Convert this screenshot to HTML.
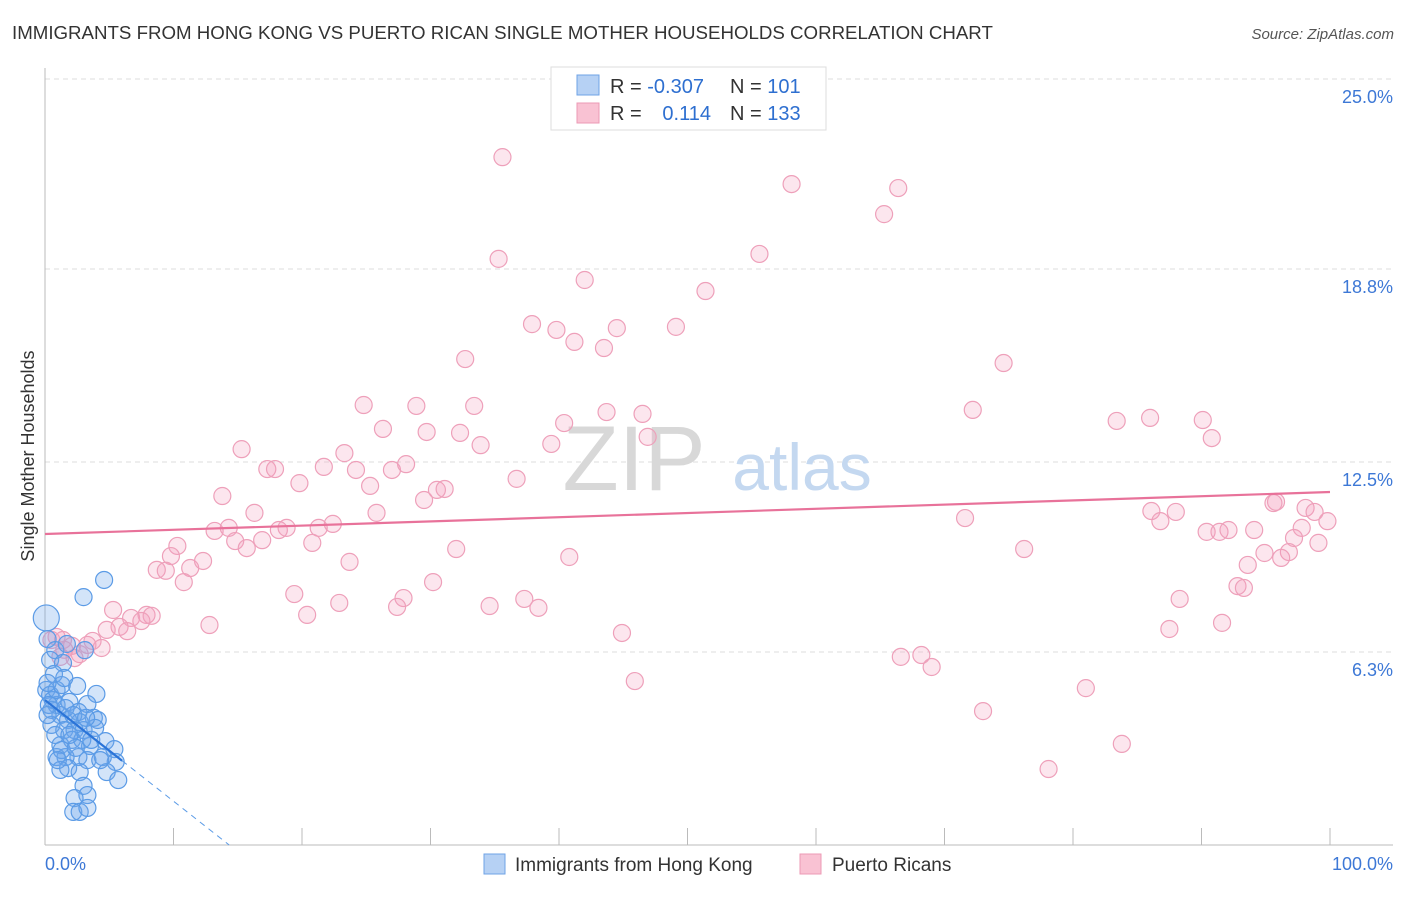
<!DOCTYPE html>
<html><head><meta charset="utf-8"><style>
body{margin:0;background:#fff;font-family:"Liberation Sans",sans-serif;}
svg text{font-family:"Liberation Sans",sans-serif;}
</style></head><body>
<svg id="c" width="1406" height="892" xmlns="http://www.w3.org/2000/svg">
<text x="12" y="39" font-size="18.7" fill="#333">IMMIGRANTS FROM HONG KONG VS PUERTO RICAN SINGLE MOTHER HOUSEHOLDS CORRELATION CHART</text>
<text x="1394" y="39" font-size="15" fill="#555" font-style="italic" text-anchor="end">Source: ZipAtlas.com</text>
<g id="grid"></g>
<text x="34" y="456" font-size="18" fill="#333" text-anchor="middle" transform="rotate(-90 34 456)">Single Mother Households</text>
<g><text x="634" y="490" font-size="92" fill="#d8d8d8" text-anchor="middle" font-family="Liberation Serif">ZIP</text><text x="802" y="490" font-size="66" fill="#c4d8f0" text-anchor="middle">atlas</text></g>
<g id="pts"></g>
<g id="lines"></g>
<g>
<rect x="551" y="67" width="275" height="63" fill="#fff" stroke="#ddd"/>
<rect x="577" y="75" width="22" height="20" fill="#b6d1f4" stroke="#6fa3e6"/>
<rect x="577" y="103" width="22" height="20" fill="#f9c2d3" stroke="#ec9ab5"/>
<text x="610" y="93" font-size="20" fill="#333">R = <tspan fill="#2e6fd0">-0.307</tspan></text>
<text x="730" y="93" font-size="20" fill="#333">N = <tspan fill="#2e6fd0">101</tspan></text>
<text x="610" y="120" font-size="20" fill="#333">R = </text><text x="711" y="120" font-size="20" fill="#2e6fd0" text-anchor="end">0.114</text>
<text x="730" y="120" font-size="20" fill="#333">N = <tspan fill="#2e6fd0">133</tspan></text>
</g>
<g>
<rect x="484" y="854" width="21" height="20" fill="#b6d1f4" stroke="#6fa3e6"/>
<text x="515" y="871" font-size="19" fill="#333">Immigrants from Hong Kong</text>
<rect x="800" y="854" width="21" height="20" fill="#f9c2d3" stroke="#ec9ab5"/>
<text x="832" y="871" font-size="19" fill="#333">Puerto Ricans</text>
</g>
</svg>
<script>
const yTicks=[6.3,12.5,18.8,25.0];
const yTickLabels=["6.3%","12.5%","18.8%","25.0%"];
const xTickLabels=["0.0%","100.0%"];
const pinkX=[35.6,58.1,66.4,65.3,55.6,35.3,42.0,51.4,37.9,39.8,44.5,49.1,41.2,43.5,32.7,74.6,24.8,28.9,33.4,43.7,46.5,72.2,83.4,86.0,90.1,26.3,29.7,32.3,40.4,46.9,90.8,15.3,23.3,33.9,39.4,17.3,17.9,21.7,24.2,27.0,28.1,19.8,25.3,30.5,31.1,36.7,13.8,29.5,16.3,25.8,71.6,86.1,88.0,86.8,95.6,95.8,98.1,98.8,99.8,13.2,14.3,18.2,18.8,21.3,22.4,14.8,16.9,20.8,15.7,10.3,32.0,76.2,90.4,91.4,92.1,94.1,97.8,97.2,99.1,9.8,23.7,40.8,93.6,94.9,96.8,96.2,8.7,9.4,11.3,12.3,10.8,30.2,19.4,27.9,37.3,88.3,92.8,93.3,22.9,27.4,34.6,38.4,20.4,5.3,6.7,7.9,8.3,7.5,12.8,4.8,5.8,6.4,44.9,87.5,91.6,3.7,4.4,3.3,2.1,1.4,0.9,1.5,2.7,2.3,66.6,68.2,69.0,45.9,81.0,73.0,83.8,78.1,0.5,1.2];
const pinkY=[22.45,21.57,21.44,20.59,19.29,19.13,18.44,18.08,17.0,16.81,16.87,16.91,16.42,16.22,15.86,15.73,14.36,14.33,14.33,14.13,14.07,14.2,13.84,13.94,13.87,13.58,13.48,13.45,13.77,13.32,13.28,12.92,12.79,13.05,13.09,12.27,12.27,12.34,12.24,12.24,12.43,11.81,11.72,11.59,11.62,11.95,11.39,11.26,10.84,10.84,10.67,10.9,10.87,10.57,11.16,11.2,11.0,10.87,10.57,10.25,10.35,10.28,10.35,10.35,10.48,9.92,9.95,9.86,9.69,9.76,9.66,9.66,10.22,10.22,10.28,10.28,10.35,10.02,9.86,9.43,9.24,9.4,9.14,9.53,9.56,9.37,8.98,8.95,9.04,9.27,8.58,8.58,8.19,8.06,8.03,8.03,8.45,8.39,7.9,7.77,7.8,7.74,7.51,7.67,7.41,7.51,7.48,7.31,7.18,7.02,7.12,6.98,6.92,7.05,7.25,6.66,6.43,6.53,6.5,6.69,6.79,6.37,6.23,6.1,6.14,6.2,5.81,5.35,5.12,4.37,3.3,2.48,6.69,6.14];
const blueX=[4.6,3.0,0.1,0.2,0.8,3.1,1.7,0.4,1.4,0.7,0.1,0.4,2.5,4.0,0.9,1.9,3.3,2.6,3.8,1.2,1.8,2.7,4.1,0.5,1.5,2.3,3.0,2.1,1.2,3.5,4.7,5.4,2.6,1.6,0.9,3.3,4.5,5.5,1.8,1.2,2.7,4.8,5.7,3.0,3.3,2.3,2.2,2.7,3.3,0.6,0.9,1.3,1.5,0.2,0.5,1.6,2.2,2.9,3.9,4.3,1.3,0.8,3.2,3.6,2.4,1.9,1.0,0.3,0.2];
const blueY=[8.65,8.09,7.41,6.72,6.36,6.36,6.56,6.04,5.94,5.58,5.06,4.9,5.19,4.93,4.57,4.67,4.6,4.34,4.15,4.24,4.08,4.01,4.08,3.92,3.75,3.75,3.75,3.43,3.26,3.23,3.39,3.13,2.87,2.87,2.87,2.77,2.87,2.71,2.51,2.45,2.38,2.38,2.12,1.93,1.63,1.53,1.08,1.08,1.21,4.73,5.06,5.22,5.45,5.29,4.41,4.47,4.24,3.43,3.82,2.77,3.1,3.59,4.15,3.43,3.17,3.59,2.77,4.57,4.24];
const pinkTrend=[10.15,11.52];
const blueTrend=[4.73,-0.33];
const NS="http://www.w3.org/2000/svg";
const X0=45,X1=1330,Y0=845,YT=79;
const sx=v=>X0+(X1-X0)*v/100;
const sy=v=>Y0-(Y0-YT)*v/25;
function mk(t,a,p){const e=document.createElementNS(NS,t);for(const k in a)e.setAttribute(k,a[k]);p.appendChild(e);return e;}
const grid=document.getElementById('grid');
yTicks.forEach((t,i)=>{
 const l=mk('line',{x1:X0,x2:1393,y1:sy(t),y2:sy(t),stroke:'#ddd','stroke-dasharray':'5,4'},grid);
 
 
 const tx=mk('text',{x:1393,y:sy(t)+24,'font-size':18,fill:'#3d78d6','text-anchor':'end'},grid);
 tx.textContent=yTickLabels[i];
 
 
});
const ax=mk('line',{x1:X0,x2:X0,y1:68,y2:Y0,stroke:'#bbb'},grid);


const bx=mk('line',{x1:X0,x2:1393,y1:Y0,y2:Y0,stroke:'#bbb'},grid);


for(let i=1;i<=10;i++){
 const t=mk('line',{x1:sx(i*10),x2:sx(i*10),y1:Y0-17,y2:Y0,stroke:'#bbb'},grid);
 
 
}
[[0,'start',45],[100,'end',1393]].forEach((d,i)=>{
 const tx=mk('text',{x:d[2],y:870,'font-size':18,fill:'#3d78d6','text-anchor':d[1]},grid);
 tx.textContent=xTickLabels[i];
 
 
});
const pts=document.getElementById('pts');
pinkX.forEach((x,i)=>{
 const c=mk('circle',{cx:sx(x),cy:sy(pinkY[i]),r:8.5,fill:'rgba(244,160,190,0.26)',stroke:'#eea0ba','stroke-width':1.2},pts);
 
 
});
blueX.forEach((x,i)=>{
 const c=mk('circle',{cx:sx(x),cy:sy(blueY[i]),r:i===2?13:8.5,fill:'rgba(110,165,235,0.3)',stroke:'#5b9be6','stroke-width':1.2},pts);
 
 
});
const lines=document.getElementById('lines');
const pl=mk('line',{x1:sx(0),y1:sy(pinkTrend[0]),x2:sx(100),y2:sy(pinkTrend[1]),stroke:'#e8729a','stroke-width':2.2},lines);


const bEnd=6,bZero=-blueTrend[0]/blueTrend[1];
const bl=mk('line',{x1:sx(0),y1:sy(blueTrend[0]),x2:sx(bEnd),y2:sy(blueTrend[0]+blueTrend[1]*bEnd),stroke:'#2b74d8','stroke-width':2.2},lines);


const bd=mk('line',{x1:sx(bEnd),y1:sy(blueTrend[0]+blueTrend[1]*bEnd),x2:sx(bZero),y2:sy(0),stroke:'#5b9be6','stroke-width':1,'stroke-dasharray':'6,5'},lines);


</script>
</body></html>
